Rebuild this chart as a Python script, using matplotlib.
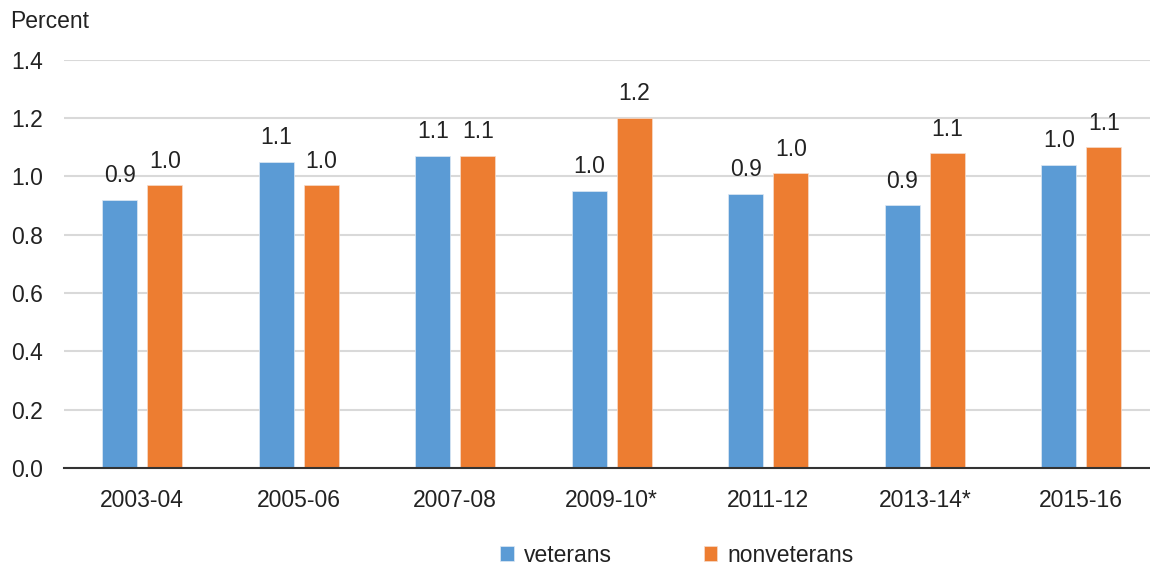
import matplotlib.pyplot as plt
import numpy as np

plt.rcParams['font.family'] = ['Liberation Sans', 'DejaVu Sans']

# valeurs
periods = ['2003-04', '2005-06', '2007-08', '2009-10*', '2011-12', '2013-14*', '2015-16']
veterans = [0.92, 1.05, 1.07, 0.95, 0.94, 0.90, 1.04]
nonveterans = [0.97, 0.97, 1.07, 1.20, 1.01, 1.08, 1.10]
veterans_labels = ['0.9', '1.1', '1.1', '1.0', '0.9', '0.9', '1.0']
nonveterans_labels = ['1.0', '1.0', '1.1', '1.2', '1.0', '1.1', '1.1']
yticks = [0.0, 0.2, 0.4, 0.6, 0.8, 1.0, 1.2, 1.4]

blue = '#5B9BD5'
orange = '#ED7D31'
text_color = '#222222'
fs = 16.5

fig = plt.figure(figsize=(11.5, 5.71), dpi=100)
ax = fig.add_axes([64 / 1150, 1 - 468 / 571, 1 - 64 / 1150, (468 - 59.5) / 571])

x = np.arange(len(periods))
w = 0.224
off = 0.144
b1 = ax.bar(x - off, veterans, w, color=blue, edgecolor='#dfe9f4', linewidth=0.5,
            label='veterans', zorder=3)
b2 = ax.bar(x + off, nonveterans, w, color=orange, edgecolor='#f6dccb', linewidth=0.5,
            label='nonveterans', zorder=3)

for rect, lab in zip(b1, veterans_labels):
    ax.annotate(lab, (rect.get_x() + rect.get_width() / 2, rect.get_height()),
                xytext=(0, 12.5), textcoords='offset points', ha='center',
                va='baseline', fontsize=fs, color=text_color)
for rect, lab in zip(b2, nonveterans_labels):
    ax.annotate(lab, (rect.get_x() + rect.get_width() / 2, rect.get_height()),
                xytext=(0, 12.5), textcoords='offset points', ha='center',
                va='baseline', fontsize=fs, color=text_color)

ax.set_xlim(-0.5, -0.5 + 1086 / 156.5)
ax.set_ylim(0, 1.4)
ax.set_yticks(yticks)
ax.set_yticklabels([f'{v:.1f}' for v in yticks])
ax.set_xticks(x)
ax.set_xticklabels(periods)
ax.tick_params(axis='both', length=0, labelsize=fs, labelcolor=text_color)
ax.tick_params(axis='y', pad=15)
ax.tick_params(axis='x', pad=15)

ax.yaxis.grid(True, color='#d9d9d9', linewidth=1.5, zorder=0)
ax.set_axisbelow(True)
for s in ['top', 'right', 'left']:
    ax.spines[s].set_visible(False)
ax.spines['bottom'].set_color('#333333')
ax.spines['bottom'].set_linewidth(1.5)
ax.spines['bottom'].set_zorder(4)

fig.text(10 / 1150, 1 - 28 / 571, 'Percent', fontsize=fs, color=text_color,
         ha='left', va='baseline')

fig.legend(loc='center', bbox_to_anchor=(677 / 1150, 1 - 555 / 571), ncol=2,
           frameon=False, fontsize=fs, handlelength=0.6, handleheight=0.6,
           handletextpad=0.45, columnspacing=4.0, labelcolor=text_color)

fig.savefig('out.png', dpi=100)
